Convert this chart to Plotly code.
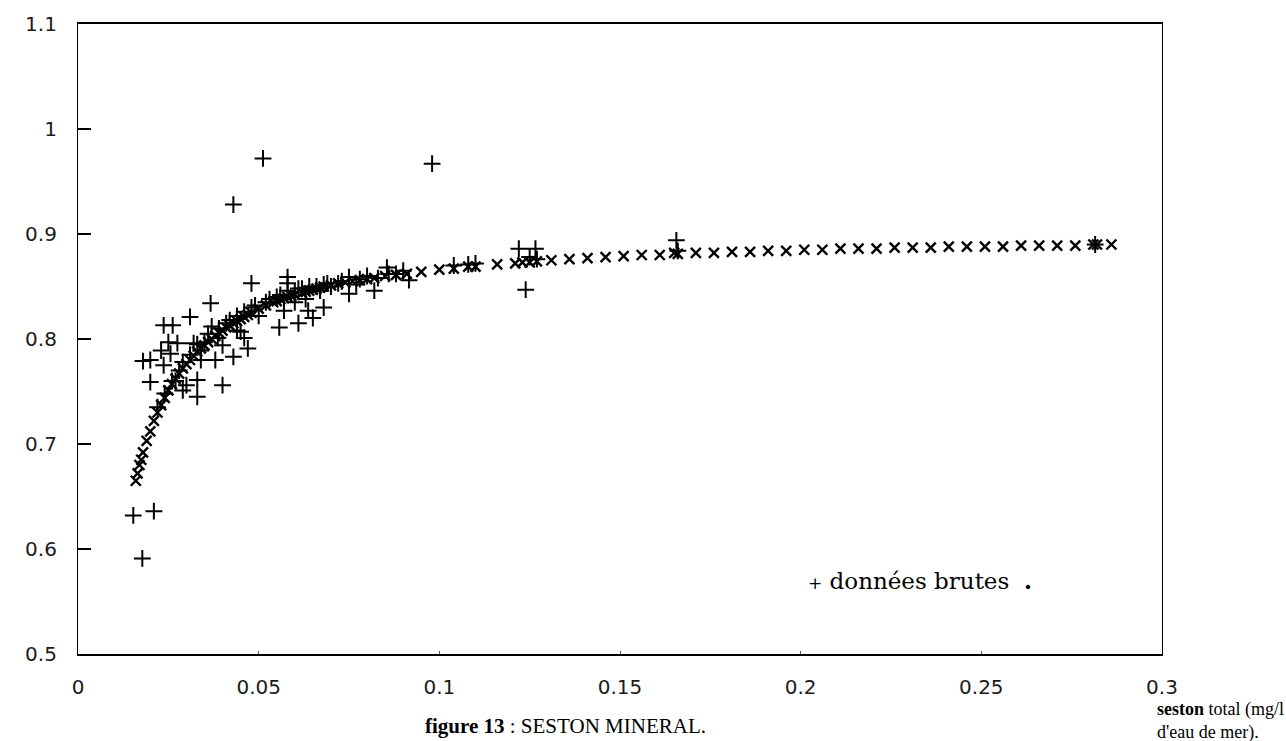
import plotly.graph_objects as go

# Raw measurements: total seston (mg/l) vs mineral fraction
raw_x = [0.0153, 0.021, 0.0178, 0.018, 0.020, 0.020, 0.0237, 0.0262, 0.023, 0.0237,
         0.025, 0.0275, 0.0256, 0.026, 0.029, 0.030, 0.033, 0.033, 0.031, 0.0367,
         0.032, 0.034, 0.034, 0.038, 0.0387, 0.040, 0.040, 0.043, 0.044, 0.046,
         0.047, 0.045, 0.043, 0.0512, 0.048, 0.058, 0.058, 0.0557, 0.061, 0.065,
         0.068, 0.0637, 0.057, 0.075, 0.075, 0.082, 0.0855, 0.0916, 0.098, 0.1239,
         0.122, 0.1266, 0.1656, 0.166, 0.2815,
         0.028, 0.035, 0.039, 0.042, 0.048, 0.052, 0.055, 0.060, 0.062, 0.066,
         0.068, 0.070, 0.072, 0.078, 0.080, 0.088, 0.104, 0.110, 0.125, 0.127,
         0.060, 0.063, 0.050,
         0.022, 0.024, 0.027, 0.029, 0.031, 0.033, 0.036, 0.037, 0.041, 0.044,
         0.046, 0.049, 0.053, 0.056, 0.058, 0.061, 0.064, 0.067, 0.069, 0.073,
         0.077, 0.083, 0.086, 0.090, 0.108]
raw_y = [0.632, 0.636, 0.591, 0.779, 0.780, 0.759, 0.813, 0.813, 0.789, 0.775,
         0.797, 0.796, 0.786, 0.760, 0.751, 0.756, 0.761, 0.745, 0.821, 0.834,
         0.796, 0.789, 0.780, 0.780, 0.801, 0.794, 0.756, 0.783, 0.808, 0.801,
         0.791, 0.807, 0.928, 0.972, 0.853, 0.859, 0.853, 0.811, 0.815, 0.820,
         0.830, 0.827, 0.827, 0.843, 0.859, 0.846, 0.868, 0.856, 0.967, 0.847,
         0.886, 0.886, 0.894, 0.884, 0.890,
         0.770, 0.797, 0.810, 0.818, 0.830, 0.835, 0.840, 0.845, 0.848, 0.850,
         0.852, 0.850, 0.853, 0.857, 0.860, 0.862, 0.870, 0.872, 0.878, 0.876,
         0.835, 0.838, 0.822,
         0.735, 0.748, 0.760, 0.778, 0.785, 0.795, 0.805, 0.812, 0.815, 0.822,
         0.826, 0.832, 0.838, 0.842, 0.846, 0.848, 0.850, 0.846, 0.853, 0.855,
         0.852, 0.858, 0.862, 0.865, 0.871]

# Fitted curve values
fit_x = [0.016, 0.0165, 0.017, 0.0175, 0.018, 0.019, 0.020, 0.021, 0.022, 0.023,
         0.024, 0.025, 0.026, 0.027, 0.028, 0.029, 0.030, 0.031, 0.032, 0.033,
         0.034, 0.035, 0.036, 0.037, 0.038, 0.039, 0.040, 0.041, 0.042, 0.043,
         0.044, 0.045, 0.046, 0.047, 0.048, 0.050, 0.052, 0.054, 0.055, 0.056,
         0.057, 0.058, 0.059, 0.060, 0.062, 0.063, 0.064, 0.065, 0.066, 0.067,
         0.068, 0.070, 0.072, 0.074, 0.076, 0.078, 0.080, 0.082, 0.085, 0.088,
         0.091, 0.095, 0.100, 0.104, 0.108, 0.110, 0.116, 0.121, 0.123, 0.125,
         0.127,
         0.131, 0.136, 0.141, 0.146, 0.151, 0.156, 0.161, 0.166, 0.171, 0.176,
         0.181, 0.186, 0.191, 0.196, 0.201, 0.206, 0.211, 0.216, 0.221, 0.226,
         0.231, 0.236, 0.241, 0.246, 0.251, 0.256, 0.261, 0.266, 0.271, 0.276,
         0.281, 0.286, 0.165, 0.282]
fit_y = [0.665, 0.672, 0.680, 0.685, 0.692, 0.703, 0.712, 0.722, 0.730, 0.737,
         0.744, 0.751, 0.757, 0.762, 0.767, 0.772, 0.776, 0.780, 0.784, 0.788,
         0.791, 0.794, 0.797, 0.800, 0.803, 0.806, 0.808, 0.811, 0.813, 0.815,
         0.817, 0.819, 0.821, 0.823, 0.825, 0.829, 0.832, 0.835, 0.836, 0.838,
         0.839, 0.840, 0.841, 0.842, 0.844, 0.845, 0.846, 0.847, 0.848, 0.849,
         0.850, 0.851, 0.853, 0.854, 0.855, 0.856, 0.857, 0.858, 0.860, 0.861,
         0.862, 0.864, 0.866, 0.867, 0.869, 0.869, 0.871, 0.872, 0.873, 0.873,
         0.874,
         0.875, 0.876, 0.877, 0.878, 0.879, 0.880, 0.880, 0.881, 0.882, 0.882,
         0.883, 0.883, 0.884, 0.884, 0.885, 0.885, 0.886, 0.886, 0.886, 0.887,
         0.887, 0.887, 0.888, 0.888, 0.888, 0.888, 0.889, 0.889, 0.889, 0.889,
         0.890, 0.890, 0.882, 0.890]

y_ticks = [0.5, 0.6, 0.7, 0.8, 0.9, 1.0, 1.1]
y_tick_text = ["0.5", "0.6", "0.7", "0.8", "0.9", "1", "1.1"]
x_ticks = [0, 0.05, 0.1, 0.15, 0.2, 0.25, 0.3]
x_tick_text = ["0", "0.05", "0.1", "0.15", "0.2", "0.25", "0.3"]

W, H = 1286, 741
L, R, T, B = 78, 1162, 22, 654  # plot area in pixels


def px(xp):
    return (xp - L) / (R - L)


def py(yp):
    return (B - yp) / (B - T)


fig = go.Figure()
fig.add_trace(go.Scatter(
    x=fit_x, y=fit_y, mode="markers", name="ajustement",
    marker=dict(symbol="x-thin", size=10, color="black",
                line=dict(width=2.4, color="black")),
))
fig.add_trace(go.Scatter(
    x=raw_x, y=raw_y, mode="markers", name="données brutes",
    marker=dict(symbol="cross-thin", size=12, color="black",
                line=dict(width=2, color="black")),
))

tick_font = dict(family="DejaVu Sans", size=20, color="#1a1a1a")
serif = "Liberation Serif"

fig.update_layout(
    width=W, height=H,
    margin=dict(l=L, r=W - R, t=T, b=H - B),
    paper_bgcolor="white", plot_bgcolor="white",
    showlegend=False,
    xaxis=dict(
        range=[0, 0.3], tickvals=x_ticks, ticktext=x_tick_text,
        showgrid=False, zeroline=False, showline=True, linewidth=2.2,
        linecolor="black", mirror=True, ticks="inside", ticklen=3,
        tickwidth=1, tickcolor="#555", tickfont=tick_font,
        ticklabelstandoff=14,
    ),
    yaxis=dict(
        range=[0.5, 1.1], tickvals=y_ticks, ticktext=y_tick_text,
        showgrid=False, zeroline=False, showline=True, linewidth=1.2,
        linecolor="black", mirror=True, ticks="inside", ticklen=13,
        tickwidth=2, tickcolor="black", tickfont=tick_font,
        ticklabelstandoff=16,
    ),
    annotations=[
        dict(xref="paper", yref="paper", x=px(806), y=py(580),
             xanchor="left", yanchor="middle", showarrow=False,
             text="<span style='font-size:17px'>+</span> données brutes  <b>.</b>",
             font=dict(family="DejaVu Serif", size=23, color="black")),
        dict(xref="paper", yref="paper", x=px(1155), y=py(697),
             xanchor="left", yanchor="top", showarrow=False, align="left",
             text="<b>seston</b> total (mg/l<br>d'eau de mer).",
             font=dict(family=serif, size=18, color="black")),
        dict(xref="paper", yref="paper", x=px(565), y=py(740),
             xanchor="center", yanchor="bottom", showarrow=False,
             text="<b>figure 13</b> : SESTON MINERAL.",
             font=dict(family=serif, size=21, color="black")),
    ],
)

fig.write_html("out.html")
